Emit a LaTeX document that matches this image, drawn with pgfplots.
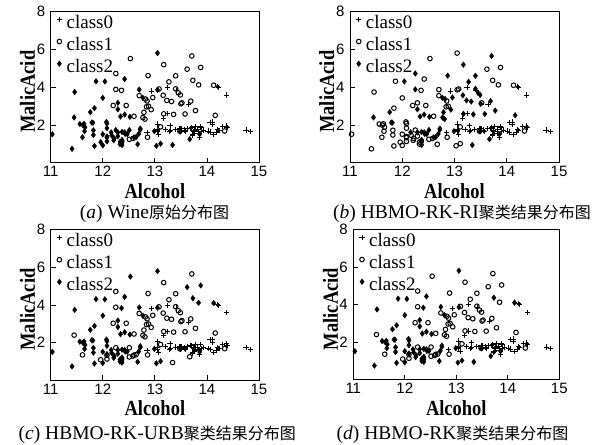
\documentclass[border=0pt]{standalone}
\usepackage{pgfplots}
\pgfplotsset{compat=1.18}
\usepackage{pgfplotstable}
\usepackage{fontspec}
\setmainfont{Liberation Serif}
\newfontfamily\arial{Liberation Sans}
\newfontfamily\lblfont[FakeStretch=0.86]{Liberation Serif}
\newfontfamily\cjk[Scale=0.82]{Noto Sans CJK SC}

% x = Alcohol, y = MalicAcid, a/b/c/d = class shown in panel (a)/(b)/(c)/(d)
\pgfplotstableread{
x y a b c d
14.23 1.71 0 0 0 0
13.20 1.78 0 0 0 0
13.16 2.36 0 0 0 0
14.37 1.95 0 0 0 0
13.24 2.59 0 0 0 0
14.20 1.76 0 0 0 0
14.39 1.87 0 0 0 0
14.06 2.15 0 0 0 0
14.83 1.64 0 0 0 0
13.86 1.35 0 0 0 0
14.10 2.16 0 0 0 0
14.12 1.48 0 0 0 0
13.75 1.73 0 0 0 0
14.75 1.73 0 0 0 0
14.38 1.87 0 0 0 0
13.63 1.81 0 0 0 0
14.30 1.92 0 0 0 0
13.83 1.57 0 0 0 0
14.19 1.59 0 0 0 0
13.64 3.10 0 0 0 0
14.06 1.63 0 0 0 0
12.93 3.80 0 0 0 0
13.71 1.86 0 0 0 0
12.85 1.60 0 0 0 0
13.50 1.81 0 0 0 0
13.05 2.05 0 0 0 0
13.39 1.77 0 0 0 0
13.30 1.72 0 0 0 0
13.87 1.90 0 0 0 0
14.02 1.68 0 0 0 0
13.73 1.50 0 0 0 0
13.58 1.66 0 0 0 0
13.68 1.83 0 0 0 0
13.76 1.53 0 0 0 0
13.51 1.80 0 0 0 0
13.48 1.81 0 0 0 0
13.28 1.64 0 0 0 0
13.05 1.65 0 0 0 0
13.07 1.50 0 0 0 0
14.22 3.99 0 0 0 0
13.56 1.71 0 0 0 0
13.41 3.84 0 0 0 0
13.88 1.89 0 0 0 0
13.24 3.98 0 0 0 0
13.05 1.77 0 0 0 0
14.21 4.04 0 0 0 0
14.38 3.59 0 0 0 0
13.90 1.68 0 0 0 0
14.10 2.02 0 0 0 0
13.94 1.73 0 0 0 0
13.05 1.73 0 0 0 0
13.83 1.65 0 0 0 0
13.82 1.75 0 0 0 0
13.77 1.90 0 0 0 0
13.74 1.67 0 0 0 0
13.56 1.73 0 0 0 0
14.22 1.70 0 0 0 0
13.29 1.97 0 0 0 0
13.72 1.43 0 0 0 0
12.37 0.94 2 2 2 2
12.33 1.10 2 1 2 2
12.64 1.36 2 2 1 1
13.67 1.25 2 2 1 2
12.37 1.13 2 2 2 2
12.17 1.45 2 1 2 2
12.37 1.21 2 2 2 2
13.11 1.01 2 1 2 2
12.37 1.17 2 2 2 2
13.34 0.94 2 2 1 2
12.21 1.19 2 1 2 2
12.29 1.61 2 2 2 2
13.86 1.51 2 2 2 2
13.49 1.66 2 2 2 2
12.99 1.67 2 2 2 2
11.96 1.09 2 1 1 1
11.66 1.88 2 1 2 2
13.03 0.90 2 1 2 2
11.84 2.89 2 1 2 2
12.33 0.99 2 1 2 2
12.70 3.87 2 1 2 2
12.00 0.92 2 1 2 2
12.72 1.81 2 2 2 2
12.08 1.13 2 1 1 1
13.05 3.86 2 1 2 2
11.84 0.89 2 1 2 2
12.67 0.98 2 1 2 2
12.16 1.61 2 2 2 2
11.65 1.67 2 1 2 2
11.64 2.06 2 1 2 2
12.08 1.33 2 1 1 1
12.08 1.83 2 1 2 2
12.00 1.51 2 1 2 2
12.69 1.53 2 2 2 2
12.29 2.83 2 2 2 2
11.62 1.99 2 1 2 2
12.47 1.52 2 2 2 2
11.81 2.12 2 2 2 2
12.29 1.41 2 1 2 2
12.37 1.07 2 2 2 2
12.29 3.17 2 1 2 2
12.08 2.08 2 1 2 2
12.60 1.34 2 2 1 1
12.34 2.45 2 2 2 2
11.82 1.72 2 1 2 2
12.51 1.73 2 2 1 1
12.42 2.55 2 2 2 2
12.25 1.73 2 1 1 1
12.72 1.75 2 2 2 2
12.22 1.29 2 1 2 2
11.61 1.35 2 1 1 1
11.46 3.74 2 1 2 2
12.52 2.43 2 2 2 2
11.76 2.68 2 2 2 2
11.41 0.74 2 1 2 2
12.08 1.39 2 1 2 2
11.03 1.51 2 1 2 2
11.82 1.47 2 1 2 2
12.42 1.61 2 2 2 2
12.77 3.43 2 2 2 2
12.00 3.43 2 1 2 2
11.45 2.40 2 2 1 1
11.56 2.05 2 1 2 2
12.42 4.43 2 1 2 2
13.05 5.80 2 1 2 2
11.87 4.31 2 1 2 2
12.07 2.16 2 1 2 2
12.43 1.53 2 2 2 2
11.79 2.13 2 2 2 2
12.37 1.63 2 2 2 2
12.04 4.30 2 2 2 2
12.86 1.35 1 1 1 1
12.88 2.99 1 1 1 1
12.81 2.31 1 2 1 1
12.70 3.55 1 1 1 1
12.51 1.24 1 1 1 1
12.60 2.46 1 1 1 1
12.25 4.72 1 2 1 1
12.53 5.51 1 1 2 1
13.49 3.59 1 2 1 1
12.84 2.96 1 1 1 1
12.93 2.81 1 2 1 1
13.36 2.56 1 2 1 1
13.52 3.17 1 1 1 1
13.62 4.95 1 1 2 1
12.25 3.88 1 2 1 1
13.16 3.57 1 2 1 1
13.88 5.04 1 1 2 1
12.87 4.61 1 2 1 1
13.32 3.24 1 2 1 1
13.08 3.90 1 1 1 1
13.50 3.12 1 2 1 1
12.79 2.67 1 2 1 1
13.11 1.90 1 1 1 1
13.23 3.30 1 2 1 1
12.58 1.29 1 1 1 1
13.17 5.19 1 2 1 1
13.84 4.12 1 1 2 1
12.45 3.03 1 1 1 1
14.34 1.68 1 1 1 1
13.48 1.67 1 1 1 1
12.36 3.83 1 1 2 2
13.69 3.26 1 2 1 1
12.85 3.27 1 1 1 1
12.96 3.45 1 2 1 1
13.78 2.76 1 2 1 1
13.73 4.36 1 1 2 2
13.45 3.70 1 2 1 1
12.82 3.37 1 2 1 1
13.58 2.58 1 2 1 1
13.40 4.60 1 2 1 1
12.20 3.03 1 1 1 1
12.77 2.39 1 2 1 1
14.16 2.51 1 2 1 1
13.71 5.65 1 2 1 1
13.40 3.91 1 2 1 1
13.27 4.28 1 2 1 1
13.17 2.59 1 2 1 1
14.13 4.10 1 1 2 2
}\wine

\pgfplotsset{
  winestyle/.style={
    scale only axis,
    xmin=11, xmax=15, ymin=0, ymax=8,
    xtick={11,12,13,14,15}, ytick={2,4,6,8},
    tick align=inside, xtick pos=left, ytick pos=left,
    major tick length=5pt,
    axis line style={line width=0.8pt},
    every tick/.style={line width=0.7pt, black},
    /pgf/number format/assume math mode=true,
    ticklabel style={font=\arial\fontsize{15}{15}\selectfont},
    yticklabel style={xshift=-2pt},
    xlabel={Alcohol}, ylabel={MalicAcid},
    label style={font=\lblfont\bfseries\fontsize{21.5}{22}\selectfont, inner sep=0pt},
    xlabel style={at={(axis description cs:0.5,0)}, anchor=base, yshift=-35.5pt},
    ylabel style={at={(axis description cs:-0.0755,0.47)}, anchor=base},
    legend style={at={(axis description cs:0,1)}, anchor=north west,
      xshift=5.7pt, yshift=-3.3pt, draw=none, fill=none,
      inner sep=0pt, nodes={inner sep=0pt}, row sep=7.5pt,
      font=\fontsize{19}{20}\selectfont},
    legend cell align=left,
    legend image code/.code={\path (-2.6pt,0pt) (7pt,0pt); \draw[##1] plot coordinates {(0pt,3pt)};},
  },
  cls0/.style={only marks, mark=+, mark size=2.6pt, mark options={line width=0.8pt}, black},
  cls1/.style={only marks, mark=o, mark size=2.3pt, mark options={line width=1pt}, black},
  cls2/.style={only marks, mark=diamond*, mark size=2.8pt, black},
}

\begin{document}
\begin{tikzpicture}
\path[use as bounding box] (0pt,0pt) rectangle (599pt,-444pt);

\begin{axis}[winestyle, width=208.3pt, height=151.3pt, at={(50.7pt,-11.5pt)}, anchor=north west]
\addplot[cls0] table[x=x, y=y, restrict expr to domain={\thisrow{a}}{-0.5:0.5}] {\wine};
\addplot[cls1] table[x=x, y=y, restrict expr to domain={\thisrow{a}}{0.5:1.5}] {\wine};
\addplot[cls2] table[x=x, y=y, restrict expr to domain={\thisrow{a}}{1.5:2.5}] {\wine};
\legend{class0,class1,class2}
\end{axis}

\begin{axis}[winestyle, width=209pt, height=151.3pt, at={(350pt,-11.5pt)}, anchor=north west]
\addplot[cls0] table[x=x, y=y, restrict expr to domain={\thisrow{b}}{-0.5:0.5}] {\wine};
\addplot[cls1] table[x=x, y=y, restrict expr to domain={\thisrow{b}}{0.5:1.5}] {\wine};
\addplot[cls2] table[x=x, y=y, restrict expr to domain={\thisrow{b}}{1.5:2.5}] {\wine};
\legend{class0,class1,class2}
\end{axis}

\begin{axis}[winestyle, width=208.3pt, height=150.6pt, at={(50.7pt,-229.7pt)}, anchor=north west]
\addplot[cls0] table[x=x, y=y, restrict expr to domain={\thisrow{c}}{-0.5:0.5}] {\wine};
\addplot[cls1] table[x=x, y=y, restrict expr to domain={\thisrow{c}}{0.5:1.5}] {\wine};
\addplot[cls2] table[x=x, y=y, restrict expr to domain={\thisrow{c}}{1.5:2.5}] {\wine};
\legend{class0,class1,class2}
\end{axis}

\begin{axis}[winestyle, width=206pt, height=150pt, at={(353.3pt,-229.5pt)}, anchor=north west]
\addplot[cls0] table[x=x, y=y, restrict expr to domain={\thisrow{d}}{-0.5:0.5}] {\wine};
\addplot[cls1] table[x=x, y=y, restrict expr to domain={\thisrow{d}}{0.5:1.5}] {\wine};
\addplot[cls2] table[x=x, y=y, restrict expr to domain={\thisrow{d}}{1.5:2.5}] {\wine};
\legend{class0,class1,class2}
\end{axis}

\node[anchor=base, font=\fontsize{19.5}{20}\selectfont, inner sep=0pt] at (154.5pt,-218.5pt) {(\textit{a}) Wine{\cjk 原始分布图}};
\node[anchor=base, font=\fontsize{19.5}{20}\selectfont, inner sep=0pt] at (462pt,-218.5pt) {(\textit{b}) HBMO-RK-RI{\cjk 聚类结果分布图}};
\node[anchor=base east, font=\fontsize{19.5}{20}\selectfont, inner sep=0pt] at (296pt,-439pt) {(\textit{c}) HBMO-RK-URB{\cjk 聚类结果分布图}};
\node[anchor=base, font=\fontsize{19.5}{20}\selectfont, inner sep=0pt] at (452.5pt,-439pt) {(\textit{d}) HBMO-RK{\cjk 聚类结果分布图}};
\end{tikzpicture}
\end{document}
